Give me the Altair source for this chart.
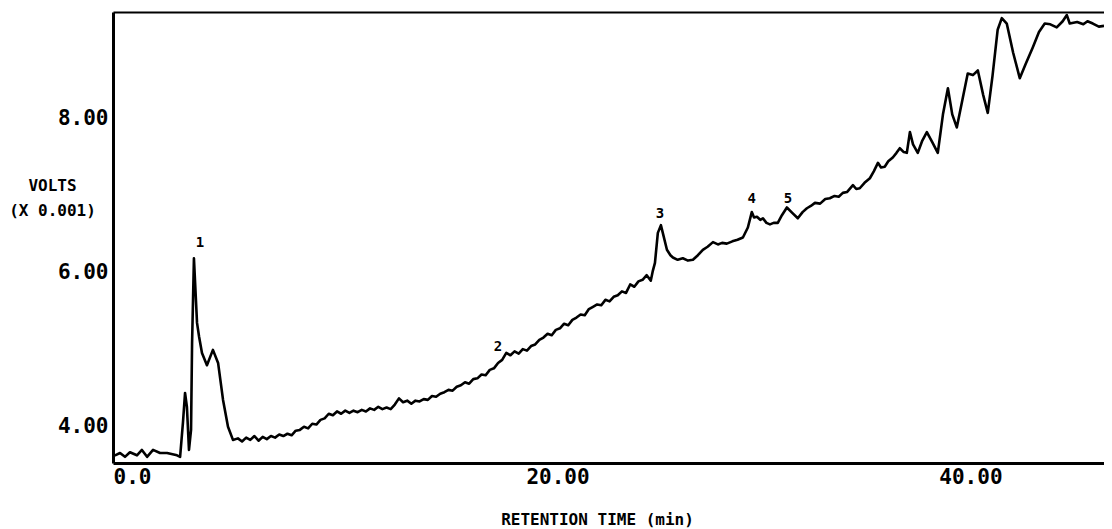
import altair as alt
import pandas as pd

# Chromatogram trace (retention time in min, signal in volts x 0.001)
time_min = [
    0.00, 0.10, 0.34, 0.58, 0.82, 1.16, 1.40, 1.65, 1.94, 2.28, 2.62, 3.10, 3.25,
    3.39, 3.49, 3.58, 3.68, 3.78, 3.83, 3.92, 3.97, 4.07, 4.17, 4.31, 4.55, 4.84,
    5.09, 5.33, 5.57, 5.81,
    6.05, 6.25, 6.45, 6.65, 6.85, 7.05, 7.25, 7.45, 7.65, 7.85,
    8.05, 8.25, 8.45, 8.65, 8.85, 9.05, 9.25, 9.45, 9.65, 9.85,
    10.05, 10.25, 10.45, 10.65, 10.85, 11.05, 11.25, 11.45, 11.65, 11.85,
    12.05, 12.25, 12.45, 12.65, 12.85, 13.05, 13.25, 13.45, 13.65, 13.85,
    14.05, 14.25, 14.45, 14.65, 14.85, 15.05, 15.25, 15.45, 15.65, 15.85,
    16.05, 16.25, 16.45, 16.65, 16.85, 17.05, 17.25, 17.45, 17.65, 17.85,
    18.05, 18.25, 18.45, 18.65, 18.85, 19.05, 19.25, 19.45, 19.65, 19.85,
    20.05, 20.25, 20.45, 20.65, 20.85, 21.05, 21.25, 21.45, 21.65, 21.85,
    22.05, 22.25, 22.45, 22.65, 22.85, 23.05, 23.25, 23.45, 23.65, 23.85,
    24.05, 24.25, 24.45, 24.65, 24.85, 25.05, 25.25, 25.45, 25.65, 25.85,
    26.05, 26.15, 26.25, 26.39, 26.54, 26.63, 26.83, 27.00, 27.12, 27.35,
    27.60, 27.85, 28.09, 28.33, 28.57, 28.80, 29.06, 29.30, 29.50, 29.73,
    30.00, 30.25, 30.51, 30.75, 30.94, 31.05, 31.19, 31.35, 31.48, 31.65,
    31.82, 32.00, 32.20, 32.40, 32.64, 32.90, 33.17, 33.40, 33.61, 33.80,
    34.00, 34.25, 34.50, 34.72, 34.95, 35.15, 35.35, 35.55, 35.84, 36.00,
    36.17, 36.40, 36.66, 36.85, 37.05, 37.20, 37.38, 37.55, 37.77, 37.95,
    38.11, 38.30, 38.45, 38.60, 38.75, 38.98, 39.20, 39.42, 39.70, 39.95,
    40.20, 40.44, 40.65, 40.87, 41.15, 41.40, 41.65, 41.89, 42.15, 42.37,
    42.60, 42.85, 43.05, 43.29, 43.60, 43.92, 44.20, 44.55, 44.85, 45.13,
    45.40, 45.71, 46.00, 46.20, 46.34, 46.70, 47.00, 47.20, 47.46, 47.75,
    48.00,
]
volts = [
    3.62, 3.62, 3.65, 3.60, 3.66, 3.62, 3.69, 3.60, 3.69, 3.65, 3.65, 3.62, 3.60,
    4.05, 4.43, 4.25, 3.69, 3.95, 5.08, 6.18, 5.90, 5.34, 5.16, 4.95, 4.79, 4.99,
    4.82, 4.34, 3.99, 3.82,
    3.84, 3.80, 3.85, 3.82, 3.87, 3.81, 3.86, 3.83, 3.87, 3.85,
    3.89, 3.87, 3.90, 3.88, 3.94, 3.95, 3.99, 3.97, 4.03, 4.02,
    4.08, 4.10, 4.16, 4.14, 4.19, 4.16, 4.20, 4.17, 4.20, 4.18,
    4.21, 4.19, 4.23, 4.21, 4.25, 4.22, 4.24, 4.22, 4.28, 4.36,
    4.31, 4.33, 4.29, 4.33, 4.32, 4.35, 4.34, 4.39, 4.38, 4.42,
    4.44, 4.47, 4.46, 4.51, 4.53, 4.57, 4.55, 4.61, 4.62, 4.67,
    4.66, 4.73, 4.75, 4.82, 4.86, 4.95, 4.92, 4.97, 4.94, 5.00,
    4.98, 5.04, 5.06, 5.12, 5.15, 5.20, 5.18, 5.25, 5.27, 5.33,
    5.31, 5.38, 5.41, 5.45, 5.44, 5.52, 5.55, 5.58, 5.57, 5.64,
    5.62, 5.68, 5.70, 5.75, 5.73, 5.84, 5.81, 5.88, 5.90, 5.96,
    5.89, 6.02, 6.12, 6.51, 6.61, 6.51, 6.29, 6.22, 6.19, 6.16,
    6.18, 6.15, 6.16, 6.22, 6.29, 6.33, 6.39, 6.36, 6.38, 6.37,
    6.40, 6.42, 6.45, 6.58, 6.78, 6.71, 6.72, 6.68, 6.70, 6.64,
    6.62, 6.64, 6.64, 6.74, 6.84, 6.77, 6.70, 6.78, 6.83, 6.86,
    6.90, 6.89, 6.95, 6.96, 6.99, 6.98, 7.03, 7.04, 7.13, 7.08,
    7.09, 7.16, 7.22, 7.31, 7.42, 7.36, 7.37, 7.44, 7.49, 7.55,
    7.61, 7.56, 7.55, 7.82, 7.66, 7.55, 7.71, 7.82, 7.68, 7.55,
    8.05, 8.39, 8.05, 7.88, 8.25, 8.58, 8.56, 8.62, 8.30, 8.07,
    8.55, 9.15, 9.30, 9.23, 8.85, 8.52, 8.70, 8.92, 9.12, 9.23,
    9.22, 9.18, 9.26, 9.34, 9.23, 9.25, 9.22, 9.26, 9.23, 9.19,
    9.20,
]

# Peak annotations
peak_labels = ["1", "2", "3", "4", "5"]
peak_time = [4.21, 18.65, 26.49, 30.94, 32.69]
peak_volts = [6.38, 5.03, 6.75, 6.95, 6.95]

# Axes
x_domain = [0, 48]
y_domain = [3.52, 9.38]
x_ticks = [0, 20, 40]
x_tick_labels = ["0.0", "20.00", "40.00"]
y_ticks = [4, 6, 8]
y_tick_labels = ["4.00", "6.00", "8.00"]
x_title = "RETENTION TIME (min)"
y_title = ["VOLTS", "(X 0.001)"]

FONT = "DejaVu Sans Mono"


def label_expr(vals, labs):
    expr = "''"
    for v, l in reversed(list(zip(vals, labs))):
        expr = f"datum.value == {v} ? '{l}' : ({expr})"
    return expr


trace_df = pd.DataFrame({"t": time_min, "v": volts})
peak_df = pd.DataFrame({"t": peak_time, "v": peak_volts, "label": peak_labels})

x_scale = alt.Scale(domain=x_domain, nice=False, zero=False)
y_scale = alt.Scale(domain=y_domain, nice=False, zero=False)

y_axis = alt.Axis(
    values=y_ticks,
    labelExpr=label_expr(y_ticks, y_tick_labels),
    labelBaseline="middle",
    labelPadding=5,
    labelFont=FONT,
    labelFontSize=21,
    labelFontWeight="bold",
    labelColor="black",
    ticks=False,
    grid=False,
    domainColor="black",
    domainWidth=3,
    title=y_title,
    titleFont=FONT,
    titleFontSize=16,
    titleFontWeight="bold",
    titleColor="black",
    titleAngle=0,
    titleAlign="center",
    titleBaseline="top",
    titleLineHeight=25,
    titleX=-61,
    titleY=165,
)

trace = alt.Chart(trace_df).mark_line(
    color="black", strokeWidth=2.6, strokeJoin="round"
).encode(
    x=alt.X(
        "t:Q",
        scale=x_scale,
        axis=alt.Axis(
            values=x_ticks,
            labelExpr=label_expr(x_ticks, x_tick_labels),
            labelAlign="left",
            labelBaseline="top",
            labelFlush=False,
            labelPadding=3,
            labelFont=FONT,
            labelFontSize=21,
            labelFontWeight="bold",
            labelColor="black",
            ticks=False,
            grid=False,
            domainColor="black",
            domainWidth=3,
            title=x_title,
            titleFont=FONT,
            titleFontSize=16,
            titleFontWeight="bold",
            titleColor="black",
            titleAlign="center",
            titleBaseline="alphabetic",
            titleX=484,
            titleY=61,
        ),
    ),
    y=alt.Y("v:Q", scale=y_scale, axis=y_axis),
)

peaks = alt.Chart(peak_df).mark_text(
    font=FONT, fontSize=14, fontWeight="bold", color="black",
    align="center", baseline="middle",
).encode(
    x=alt.X(
        "t:Q",
        scale=x_scale,
        axis=alt.Axis(
            orient="top", labels=False, ticks=False, grid=False, title=None,
            domainColor="black", domainWidth=2,
        ),
    ),
    y=alt.Y("v:Q", scale=y_scale, axis=y_axis),
    text="label:N",
)

chart = (
    alt.layer(trace, peaks)
    .resolve_axis(x="independent")
    .properties(
        width=991,
        height=451,
        autosize=alt.AutoSizeParams(type="none"),
        padding={"left": 105, "top": 4, "right": 0, "bottom": 68},
        background="white",
    )
    .configure_view(stroke=None)
)

chart.save("out.html", embed_options={"renderer": "svg", "actions": False})
